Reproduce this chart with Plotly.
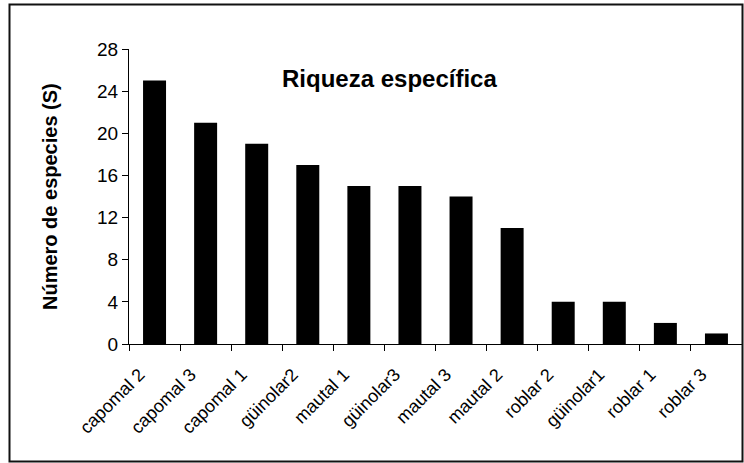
import plotly.graph_objects as go

categories = ["capomal 2", "capomal 3", "capomal 1", "güinolar2", "mautal 1", "güinolar3",
              "mautal 3", "mautal 2", "roblar 2", "güinolar1", "roblar 1", "roblar 3"]
species = [25, 21, 19, 17, 15, 15, 14, 11, 4, 4, 2, 1]
y_ticks = [0, 4, 8, 12, 16, 20, 24, 28]

FONT = "Liberation Sans, Arial, sans-serif"

fig = go.Figure(go.Bar(x=categories, y=species, marker=dict(color="black", line=dict(width=0))))

L, R, T, B = 129, 2, 49, 119
W, H = 744, 463
pw = W - L - R
ph = H - T - B

def px(x):
    return (x - L) / pw

def py(y):
    return (H - B - y) / ph

fig.update_layout(
    width=W, height=H, autosize=False,
    margin=dict(l=L, r=R, t=T, b=B, pad=0),
    plot_bgcolor="white", paper_bgcolor="white",
    bargap=0.55, showlegend=False,
    font=dict(family=FONT, color="black"),
)
fig.update_xaxes(
    type="category", range=[-0.5, len(categories) - 0.5],
    showline=True, linecolor="black", linewidth=1,
    ticks="outside", tickson="boundaries", ticklen=6, tickcolor="black",
    tickangle=-45, tickfont=dict(family=FONT, size=18, color="black"),
    ticklabelstandoff=12, ticklabelshift=-15,
    showgrid=False, zeroline=False,
)
fig.update_yaxes(
    range=[0, 28], tickvals=y_ticks,
    showline=True, linecolor="black", linewidth=1,
    ticks="outside", ticklen=6, tickcolor="black",
    tickfont=dict(family=FONT, size=19, color="black"),
    showgrid=False, zeroline=False,
)
fig.add_annotation(
    text="<b>Riqueza específica</b>", xref="paper", yref="paper",
    x=px(389), y=py(79), xanchor="center", yanchor="middle", showarrow=False,
    font=dict(family=FONT, size=24, color="black"),
)
fig.add_annotation(
    text="<b>Número de especies (S)</b>", xref="paper", yref="paper",
    x=px(50), y=py(197), xanchor="center", yanchor="middle", showarrow=False,
    textangle=-90, font=dict(family=FONT, size=20, color="black"),
)
fig.add_shape(
    type="rect", xref="paper", yref="paper",
    x0=px(9.5), x1=px(742.5), y0=py(461.5), y1=py(4.5),
    line=dict(color="#111", width=2), fillcolor="rgba(0,0,0,0)", layer="above",
)

fig.write_html(
    "out.html",
    config={"displayModeBar": False},
    post_script="document.body.style.margin='0';document.body.style.padding='0';document.body.style.overflow='hidden';",
)
